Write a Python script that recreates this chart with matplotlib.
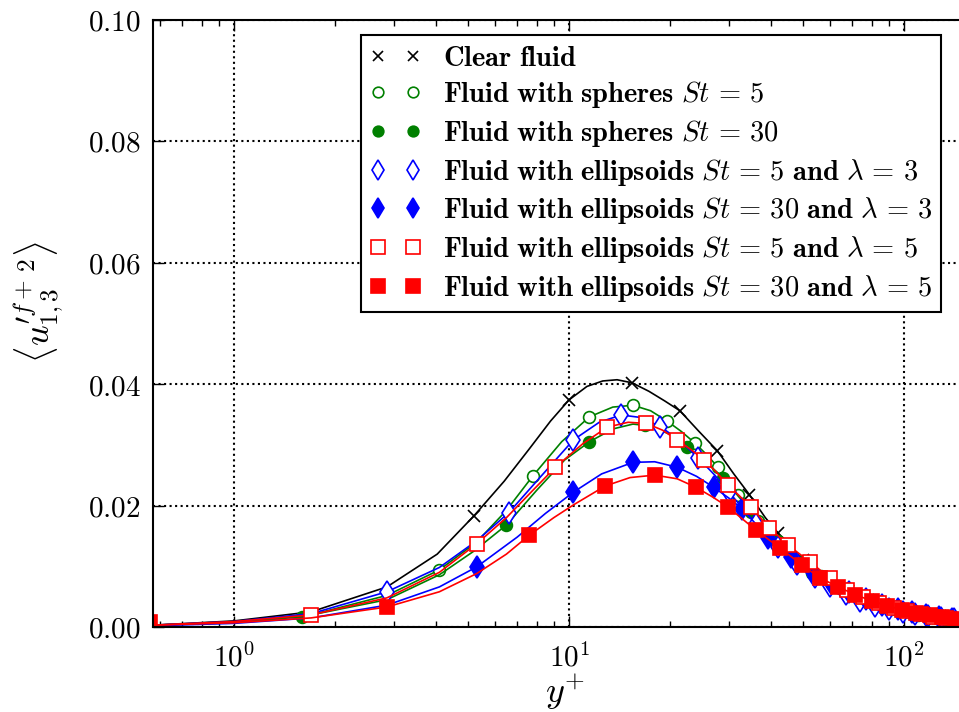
import numpy as np
import matplotlib
matplotlib.use('Agg')
import matplotlib.pyplot as plt
from matplotlib.ticker import FixedLocator, LogLocator, NullFormatter

plt.rcParams['mathtext.fontset'] = 'cm'

# --- data (y+ , <u'^2>) ---
# line curves
clear_lx = [0.573, 1.0, 1.7, 2.86, 4.04, 5.2, 6.4, 7.6, 8.8, 10.0, 11.3, 12.6, 13.9, 15.4, 17.3, 19.3, 21.4, 24.3, 27.7, 31.0, 34.5, 38.5, 43, 48, 54, 61, 69, 78, 88, 100, 114, 130, 148, 166]
clear_ly = [0.0003, 0.0010, 0.0025, 0.0066, 0.0120, 0.0183, 0.0240, 0.0293, 0.0339, 0.0374, 0.0396, 0.0405, 0.0407, 0.0402, 0.0388, 0.0372, 0.0356, 0.0323, 0.0290, 0.0252, 0.0218, 0.0180, 0.0148, 0.0120, 0.0096, 0.0075, 0.0058, 0.0045, 0.0036, 0.0028, 0.0022, 0.0017, 0.0014, 0.0011]
sph5_lx = [0.573, 1.0, 1.7, 2.86, 4.1, 5.3, 6.5, 7.8, 9.5, 11.5, 13.5, 15.5, 17.5, 19.6, 21.6, 23.7, 25.8, 27.8, 30, 32, 36.5, 41.5, 47, 53, 59.5, 66.5, 74, 82, 91, 100, 110, 121, 133, 146, 166]
sph5_ly = [0.0003, 0.0008, 0.0020, 0.0052, 0.0094, 0.0140, 0.0192, 0.0249, 0.0305, 0.0346, 0.0362, 0.0365, 0.0356, 0.0339, 0.0322, 0.0303, 0.0283, 0.0263, 0.0240, 0.0218, 0.0175, 0.0140, 0.0111, 0.0089, 0.0071, 0.0057, 0.0046, 0.0037, 0.0030, 0.0025, 0.0020, 0.0016, 0.0013, 0.0010, 0.0008]
sph30_lx = [0.573, 1.0, 1.6, 2.86, 4.1, 5.2, 6.5, 8.0, 9.7, 11.5, 13.5, 15.5, 17.5, 20, 22.5, 25.5, 28.8, 32, 35, 38.5, 42, 45.5, 49, 56.5, 64.5, 73, 82, 91.5, 101, 111, 122, 134, 146, 166]
sph30_ly = [0.0003, 0.0007, 0.0017, 0.0045, 0.0086, 0.0125, 0.0168, 0.0225, 0.0275, 0.0305, 0.0326, 0.0334, 0.0331, 0.0317, 0.0296, 0.0272, 0.0246, 0.0215, 0.0190, 0.0165, 0.0142, 0.0124, 0.0108, 0.0084, 0.0065, 0.0051, 0.0040, 0.0032, 0.0026, 0.0021, 0.0017, 0.0014, 0.0011, 0.0009]
ell53_lx = [0.573, 1.0, 1.7, 2.86, 4.1, 5.3, 6.6, 8.3, 10.3, 12.3, 14.3, 16.3, 18.7, 21.5, 24.3, 27.2, 30, 33, 36, 39, 42, 46, 50, 55, 61, 68, 76, 85, 95, 106, 118, 131, 146, 166]
ell53_ly = [0.0003, 0.0009, 0.0022, 0.0058, 0.0098, 0.0142, 0.0188, 0.0250, 0.0308, 0.0337, 0.0349, 0.0345, 0.0330, 0.0306, 0.0278, 0.0250, 0.0222, 0.0195, 0.0170, 0.0150, 0.0132, 0.0112, 0.0096, 0.0080, 0.0065, 0.0052, 0.0041, 0.0033, 0.0027, 0.0022, 0.0018, 0.0015, 0.0012, 0.0010]
ell303_lx = [0.573, 1.0, 1.7, 2.86, 4.1, 5.3, 7.0, 8.5, 10.3, 12.5, 15.5, 18.0, 21, 24, 27, 30, 32.9, 36, 39.3, 42.5, 46, 53, 60.5, 68.5, 77, 86, 95.5, 105.5, 116, 127, 139, 152, 166]
ell303_ly = [0.0002, 0.0006, 0.0015, 0.0036, 0.0066, 0.0099, 0.0148, 0.0187, 0.0222, 0.0252, 0.0271, 0.0272, 0.0263, 0.0248, 0.0230, 0.0212, 0.0194, 0.0170, 0.0146, 0.0130, 0.0115, 0.0092, 0.0073, 0.0058, 0.0046, 0.0037, 0.0030, 0.0024, 0.0020, 0.0016, 0.0013, 0.0010, 0.0009]
ell55_lx = [0.573, 1.0, 1.7, 2.86, 4.1, 5.3, 6.5, 7.7, 9.1, 11.0, 13.0, 15.0, 17.0, 19.0, 21.0, 23.1, 25.3, 27.5, 29.8, 34.8, 39.6, 45, 52.3, 60, 67.5, 75.5, 84, 93, 102, 112, 122, 133, 145, 166]
ell55_ly = [0.0003, 0.0009, 0.0020, 0.0048, 0.0090, 0.0137, 0.0180, 0.0222, 0.0263, 0.0302, 0.0329, 0.0337, 0.0335, 0.0324, 0.0308, 0.0292, 0.0275, 0.0255, 0.0234, 0.0198, 0.0163, 0.0135, 0.0107, 0.0081, 0.0061, 0.0050, 0.0040, 0.0032, 0.0026, 0.0021, 0.0017, 0.0014, 0.0011, 0.0008]
ell305_lx = [0.573, 1.0, 1.7, 2.86, 4.1, 5.3, 6.5, 7.6, 9.0, 10.3, 12.8, 15.2, 18.0, 21.0, 23.9, 26.8, 29.7, 36, 42.6, 49.6, 56, 63.5, 71.5, 80, 89, 98.5, 108.5, 119, 130, 142, 155, 166]
ell305_ly = [0.0003, 0.0007, 0.0015, 0.0033, 0.0058, 0.0088, 0.0120, 0.0151, 0.0180, 0.0201, 0.0232, 0.0246, 0.0250, 0.0244, 0.0230, 0.0214, 0.0198, 0.0160, 0.0130, 0.0102, 0.0081, 0.0066, 0.0053, 0.0043, 0.0035, 0.0028, 0.0023, 0.0019, 0.0016, 0.0013, 0.0010, 0.0009]

# marker positions
clear_mx = [5.2, 10.0, 15.4, 21.4, 27.7, 34.5, 42, 50, 58.5, 68, 78, 89, 101, 114, 128, 144]
clear_my = [0.0183, 0.0374, 0.0402, 0.0356, 0.0290, 0.0218, 0.0155, 0.0110, 0.0081, 0.0060, 0.0045, 0.0035, 0.0028, 0.0022, 0.0018, 0.0014]
sph5_mx = [4.1, 7.8, 11.5, 15.5, 19.6, 23.7, 27.8, 32, 36.5, 41.5, 47, 53, 59.5, 66.5, 74, 82, 91, 100, 110, 121, 133, 146]
sph5_my = [0.0094, 0.0249, 0.0346, 0.0365, 0.0339, 0.0303, 0.0263, 0.0218, 0.0175, 0.0140, 0.0111, 0.0089, 0.0071, 0.0057, 0.0046, 0.0037, 0.0030, 0.0025, 0.0020, 0.0016, 0.0013, 0.0010]
sph30_mx = [1.6, 6.5, 11.5, 16.8, 22.5, 28.8, 35, 42, 49, 56.5, 64.5, 73, 82, 91.5, 101, 111, 122, 134, 146]
sph30_my = [0.0017, 0.0168, 0.0305, 0.0333, 0.0296, 0.0246, 0.0190, 0.0142, 0.0108, 0.0084, 0.0065, 0.0051, 0.0040, 0.0032, 0.0026, 0.0021, 0.0017, 0.0014, 0.0011]
ell53_mx = [2.86, 6.6, 10.3, 14.3, 18.7, 24.3, 30, 36, 42, 48, 54, 60, 67, 74, 82, 90, 99, 108, 118, 129, 141]
ell53_my = [0.0058, 0.0188, 0.0308, 0.0349, 0.0330, 0.0278, 0.0222, 0.0170, 0.0132, 0.0104, 0.0083, 0.0067, 0.0054, 0.0043, 0.0035, 0.0029, 0.0025, 0.0021, 0.0018, 0.0015, 0.0013]
ell303_mx = [5.3, 10.3, 15.5, 21, 27, 32.9, 39.3, 46, 53, 60.5, 68.5, 77, 86, 95.5, 105.5, 116, 127, 139, 152]
ell303_my = [0.0099, 0.0222, 0.0271, 0.0263, 0.0230, 0.0194, 0.0146, 0.0115, 0.0092, 0.0073, 0.0058, 0.0046, 0.0037, 0.0030, 0.0024, 0.0020, 0.0016, 0.0013, 0.0010]
ell55_mx = [1.7, 5.3, 9.1, 13.0, 17.0, 21.0, 25.3, 29.8, 34.8, 39.6, 45, 52.3, 60, 67.5, 75.5, 84, 93, 102, 112, 122, 133, 145]
ell55_my = [0.0020, 0.0137, 0.0263, 0.0329, 0.0335, 0.0308, 0.0275, 0.0234, 0.0198, 0.0163, 0.0135, 0.0107, 0.0081, 0.0061, 0.0050, 0.0040, 0.0032, 0.0026, 0.0021, 0.0017, 0.0014, 0.0011]
ell305_mx = [0.56, 2.86, 7.6, 12.8, 18.0, 23.9, 29.7, 36, 42.6, 49.6, 56, 63.5, 71.5, 80, 89, 98.5, 108.5, 119, 130, 142, 155]
ell305_my = [0.0008, 0.0033, 0.0151, 0.0232, 0.0250, 0.0230, 0.0198, 0.0160, 0.0130, 0.0102, 0.0081, 0.0066, 0.0053, 0.0043, 0.0035, 0.0028, 0.0023, 0.0019, 0.0016, 0.0013, 0.0010]

labels = [r'$\mathbf{Clear\ fluid}$',
          r'$\mathbf{Fluid\ with\ spheres}\ St\,=\,5$',
          r'$\mathbf{Fluid\ with\ spheres}\ St\,=\,30$',
          r'$\mathbf{Fluid\ with\ ellipsoids}\ St\,=\,5\ \mathbf{and}\ \lambda\,=\,3$',
          r'$\mathbf{Fluid\ with\ ellipsoids}\ St\,=\,30\ \mathbf{and}\ \lambda\,=\,3$',
          r'$\mathbf{Fluid\ with\ ellipsoids}\ St\,=\,5\ \mathbf{and}\ \lambda\,=\,5$',
          r'$\mathbf{Fluid\ with\ ellipsoids}\ St\,=\,30\ \mathbf{and}\ \lambda\,=\,5$']
yticks = [0.00, 0.02, 0.04, 0.06, 0.08, 0.10]
ytick_labels = [r'$0.00$', r'$0.02$', r'$0.04$', r'$0.06$', r'$0.08$', r'$0.10$']
xticks = [1, 10, 100]
xtick_labels = [r'$10^{0}$', r'$10^{1}$', r'$10^{2}$']

G = (0, 0.5, 0)
series = [  # line x, line y, marker x, marker y, color, marker, ms, filled
    (clear_lx, clear_ly, clear_mx, clear_my, 'k', 'x', 8, True),
    (sph5_lx, sph5_ly, sph5_mx, sph5_my, G, 'o', 8.5, False),
    (sph30_lx, sph30_ly, sph30_mx, sph30_my, G, 'o', 8.5, True),
    (ell53_lx, ell53_ly, ell53_mx, ell53_my, 'b', 'd', 11.5, False),
    (ell303_lx, ell303_ly, ell303_mx, ell303_my, 'b', 'd', 11.5, True),
    (ell55_lx, ell55_ly, ell55_mx, ell55_my, 'r', 's', 10.5, False),
    (ell305_lx, ell305_ly, ell305_mx, ell305_my, 'r', 's', 10.5, True),
]

fig = plt.figure(figsize=(9.59, 7.12), dpi=100)
ax = fig.add_axes([153/959, 85/712, 825/959, 607.5/712])
handles = []
for (lx, ly, mx, my, c, m, ms, filled), lab in zip(series, labels):
    ax.plot(lx, ly, '-', color=c, lw=1.2)
    h, = ax.plot(mx, my, ls='none', marker=m, ms=ms, color=c, mec=c,
                 mfc=(c if filled else 'white'), mew=1.2, label=lab)
    handles.append(h)

ax.set_xscale('log')
ax.set_xlim(0.573, 166); ax.set_ylim(0, 0.10)
ax.xaxis.set_major_locator(FixedLocator(xticks))
ax.set_xticklabels(xtick_labels)
ax.xaxis.set_minor_locator(LogLocator(base=10, subs=np.arange(2, 10)))
ax.xaxis.set_minor_formatter(NullFormatter())
ax.set_yticks(yticks); ax.set_yticklabels(ytick_labels)
ax.tick_params(which='both', direction='in', top=True, right=True, labelsize=21)
ax.tick_params(which='major', length=8, width=1.0)
ax.tick_params(which='minor', length=4, width=1.0)
ax.tick_params(axis='x', pad=12); ax.tick_params(axis='y', pad=9)
for s in ax.spines.values(): s.set_linewidth(1.5)
ax.grid(True, which='major', color='k', ls=':', lw=1.5)
ax.set_axisbelow(True)

ax.set_xlabel(r'$y^{+}$', fontsize=26, labelpad=0)
ax.set_ylabel(r"$\langle {u^{\prime f+}_{1,3}}^{2}\rangle$", fontsize=26)
ax.yaxis.set_label_coords(-0.105, 0.535)

leg = ax.legend(handles=handles, loc='upper center', bbox_to_anchor=(0.6036, 0.9745),
                numpoints=2, fontsize=20.5, frameon=True, fancybox=False,
                handlelength=1.86, handletextpad=0.75, borderpad=0.3, borderaxespad=0,
                labelspacing=0.27, markerscale=0.9)
leg.get_frame().set_edgecolor('k'); leg.get_frame().set_linewidth(1.5)
leg.get_frame().set_alpha(1.0)

plt.savefig('out.png', dpi=100)
